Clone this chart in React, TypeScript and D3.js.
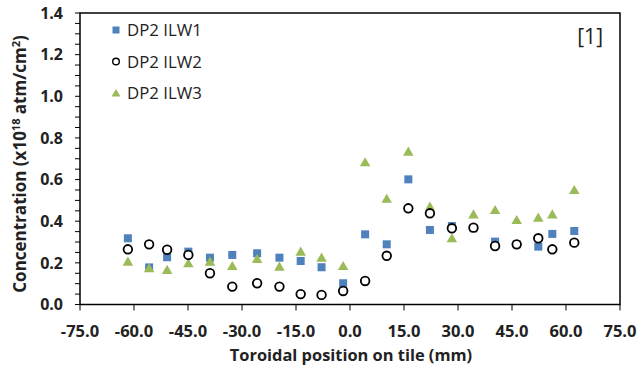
import React from "react";
import * as d3 from "d3";

const xPositions = [-61.7, -55.8, -50.8, -44.9, -38.9, -32.7, -25.8, -19.6, -13.7, -7.9, -1.9, 4.2, 10.2, 16.2, 22.2, 28.3, 34.3, 40.3, 46.3, 52.3, 56.2, 62.3];
const ilw1 = [0.318, 0.178, 0.227, 0.254, 0.225, 0.238, 0.246, 0.225, 0.209, 0.179, 0.102, 0.337, 0.289, 0.601, 0.358, 0.377, 0.366, 0.302, 0.289, 0.278, 0.339, 0.353];
const ilw2 = [0.265, 0.289, 0.263, 0.238, 0.15, 0.086, 0.102, 0.086, 0.05, 0.046, 0.065, 0.113, 0.234, 0.462, 0.438, 0.366, 0.369, 0.281, 0.289, 0.318, 0.265, 0.297];
const ilw3 = [0.206, 0.174, 0.166, 0.198, 0.206, 0.185, 0.219, 0.182, 0.254, 0.225, 0.185, 0.683, 0.508, 0.734, 0.47, 0.318, 0.433, 0.454, 0.406, 0.417, 0.433, 0.55];
const xTicks = [-75, -60, -45, -30, -15, 0, 15, 30, 45, 60, 75];
const yTicks = [0, 0.2, 0.4, 0.6, 0.8, 1.0, 1.2, 1.4];
const seriesNames = ["DP2 ILW1", "DP2 ILW2", "DP2 ILW3"];

const BLUE = "#4F81BD";
const GREEN = "#9BBB59";
const FONT = "'Open Sans', 'Liberation Sans', sans-serif";

export default function App() {
  const W = 644, H = 369;
  const left = 80, right = 620, top = 13, bottom = 304.5;
  const x = d3.scaleLinear().domain([-75, 75]).range([left, right]);
  const y = d3.scaleLinear().domain([0, 1.4]).range([bottom, top]);
  const minorTicks = d3.range(0, 1.4001, 0.05);
  const tri = d3.symbol().type(d3.symbolTriangle).size(48)();
  const triLegend = d3.symbol().type(d3.symbolTriangle).size(34)();
  const sq = 8;

  const legendY = [30, 61.5, 93];

  return (
    <svg width={W} height={H} style={{ position: "absolute", left: 0, top: 0, background: "#fff" }} fontFamily={FONT}>
      <rect x={0} y={0} width={W} height={H} fill="#fff" />
      {/* frame */}
      <rect x={left} y={top} width={right - left} height={bottom - top} fill="none" stroke="#000" strokeWidth={1.5} />
      {/* y ticks */}
      {minorTicks.map((t, i) => (
        <line key={"ym" + i} x1={left - 5} x2={left} y1={y(t)} y2={y(t)} stroke="#000" strokeWidth={1} />
      ))}
      {yTicks.map((t) => (
        <text key={"yl" + t} x={left - 17} y={y(t)} dy="0.36em" textAnchor="end" fontSize={16} fontWeight="bold" fill="#222">
          {t.toFixed(1)}
        </text>
      ))}
      {/* x ticks */}
      {xTicks.map((t) => (
        <g key={"xt" + t}>
          <line x1={x(t)} x2={x(t)} y1={bottom} y2={bottom + 6} stroke="#000" strokeWidth={1} />
          <text x={x(t)} y={bottom + 32} textAnchor="middle" fontSize={16.5} fontWeight="bold" fill="#222">
            {t.toFixed(1)}
          </text>
        </g>
      ))}
      {/* axis titles */}
      <text x={351} y={361} textAnchor="middle" fontSize={16.4} fontWeight="bold" fill="#222">
        Toroidal position on tile (mm)
      </text>
      <text transform={`translate(26, 164) rotate(-90)`} textAnchor="middle" fontSize={17} fontWeight="bold" fill="#222">
        Concentration (x10<tspan fontSize={11} dy={-6}>18</tspan><tspan dy={6}> atm/cm</tspan><tspan fontSize={11} dy={-6}>2</tspan><tspan dy={6}>)</tspan>
      </text>
      {/* series ILW1 squares */}
      {xPositions.map((xv, i) => (
        <rect key={"s1" + i} x={x(xv) - sq / 2} y={y(ilw1[i]) - sq / 2} width={sq} height={sq} fill={BLUE} />
      ))}
      {/* ILW3 triangles */}
      {xPositions.map((xv, i) => (
        <path key={"s3" + i} d={tri!} transform={`translate(${x(xv)},${y(ilw3[i]) + 1})`} fill={GREEN} />
      ))}
      {/* ILW2 circles */}
      {xPositions.map((xv, i) => (
        <circle key={"s2" + i} cx={x(xv)} cy={y(ilw2[i])} r={4.3} fill="#fff" stroke="#000" strokeWidth={1.8} />
      ))}
      {/* legend */}
      <rect x={116 - 3.5} y={legendY[0] - 3.5} width={7} height={7} fill={BLUE} />
      <circle cx={116} cy={legendY[1]} r={3.3} fill="#fff" stroke="#000" strokeWidth={1.4} />
      <path d={triLegend!} transform={`translate(116,${legendY[2] + 1})`} fill={GREEN} />
      {seriesNames.map((n, i) => (
        <text key={n} x={127} y={legendY[i]} dy="0.36em" fontSize={16.8} fill="#222">
          {n}
        </text>
      ))}
      <text x={603} y={36} dy="0.36em" textAnchor="end" fontSize={21} fill="#222">[1]</text>
    </svg>
  );
}
